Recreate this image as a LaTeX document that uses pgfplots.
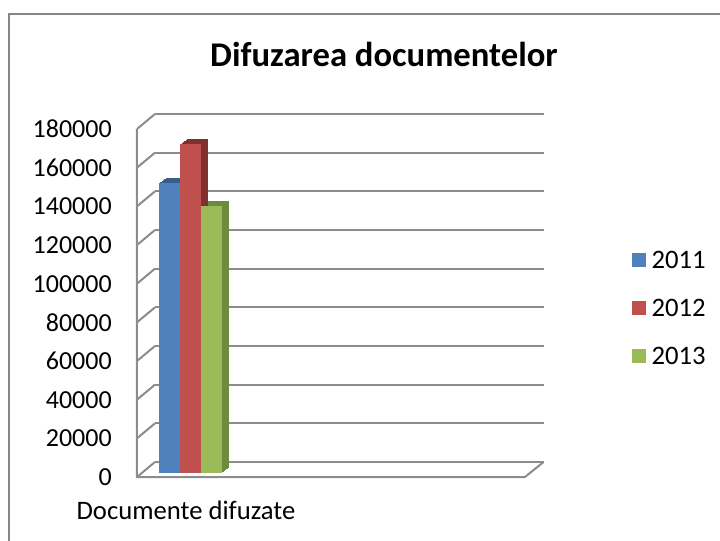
\documentclass[border=0pt]{standalone}
\usepackage{pgfplots}
\usepackage{pgfplotstable}
\pgfplotsset{compat=1.18}
\usepackage{fontspec}
\setmainfont{Carlito}
\definecolor{gridgray}{RGB}{140,140,140}
\definecolor{framegray}{RGB}{134,134,134}
\definecolor{c11}{RGB}{79,129,189}
\definecolor{c12}{RGB}{192,80,77}
\definecolor{c13}{RGB}{155,187,89}
\definecolor{d11}{RGB}{56,93,138}
\definecolor{d12}{RGB}{128,48,46}
\definecolor{d13}{RGB}{111,138,63}
\pgfplotstableread{
x y
14.5 150000
}\dataA
\pgfplotstableread{
x y
35.5 170000
}\dataB
\pgfplotstableread{
x y
56.5 138000
}\dataC
\begin{document}
\begin{tikzpicture}
\path[use as bounding box] (-116.25pt,-58.5pt) rectangle (423.75pt,346.5pt);
\draw[framegray, line width=1.5pt] (-109.5pt,-70pt) -- (-109.5pt,336pt) -- (440pt,336pt);
\begin{axis}[
  at={(0pt,0pt)}, anchor=south west, scale only axis,
  width=291pt, height=261pt,
  xmin=0, xmax=388, ymin=0, ymax=180000,
  clip=false,
  axis line style={draw=none}, tick style={draw=none},
  xtick=\empty, ytick={0,20000,40000,60000,80000,100000,120000,140000,160000,180000},
  ymajorgrids, grid style={gridgray, line width=1.5pt},
  scaled y ticks=false,
  yticklabel style={font=\fontsize{19.5}{23}\selectfont, anchor=east, inner sep=0pt, xshift=-32.25pt, yshift=-11.25pt,
    /pgf/number format/fixed, /pgf/number format/precision=0,
    /pgf/number format/1000 sep={}, /pgf/number format/assume math mode=true},
  legend image code/.code={\fill[#1] (0pt,-5.25pt) rectangle (10.5pt,5.25pt);},
  legend style={draw=none, fill=none, at={(1.2268,0.607)}, anchor=north west,
    inner sep=0pt, outer sep=0pt, row sep=22.5pt,
    font=\fontsize{20}{24}\selectfont,
    nodes={inner sep=0pt, text height=13.5pt, text depth=0pt}},
  legend cell align=left,
]
% walls
\pgfplotsinvokeforeach{0,20000,40000,60000,80000,100000,120000,140000,160000,180000}{
  \draw[gridgray, line width=1.5pt] (axis cs:0,#1) -- ++(-13.5pt,-11.25pt);
}
\draw[gridgray, line width=1.5pt] (axis cs:0,180000) ++(-13.5pt,-11.25pt) -- ++(0,-261pt) -- ++(291pt,0) -- (axis cs:388,0);
% extrusion (side/top faces)
\pgfplotsinvokeforeach{1,2,3,4,5,6,7}{
  \addplot[ybar, bar width=15.75pt, bar shift=0pt, draw=none, fill=d11, xshift=#1*0.75pt, yshift=-8.25pt+#1*0.536pt, forget plot] table[x=x,y=y] {\dataA};
  \addplot[ybar, bar width=15.75pt, bar shift=0pt, draw=none, fill=d12, xshift=#1*0.75pt, yshift=-8.25pt+#1*0.536pt, forget plot] table[x=x,y=y] {\dataB};
  \addplot[ybar, bar width=15.75pt, bar shift=0pt, draw=none, fill=d13, xshift=#1*0.75pt, yshift=-8.25pt+#1*0.536pt, forget plot] table[x=x,y=y] {\dataC};
}
% front faces
\addplot[ybar, bar width=15.75pt, bar shift=0pt, draw=none, fill=c11, yshift=-8.25pt, forget plot] table[x=x,y=y] {\dataA};
\addplot[ybar, bar width=15.75pt, bar shift=0pt, draw=none, fill=c12, yshift=-8.25pt, forget plot] table[x=x,y=y] {\dataB};
\addplot[ybar, bar width=15.75pt, bar shift=0pt, draw=none, fill=c13, yshift=-8.25pt, forget plot] table[x=x,y=y] {\dataC};
\addlegendimage{draw=none, fill=c11}
\addlegendentry{\ 2011}
\addlegendimage{draw=none, fill=c12}
\addlegendentry{\ 2012}
\addlegendimage{draw=none, fill=c13}
\addlegendentry{\ 2013}
\end{axis}
\node[font=\bfseries\fontsize{26}{31}\selectfont] at (171.75pt,306pt) {Difuzarea documentelor};
\node[font=\fontsize{20}{24}\selectfont, anchor=base] at (23.25pt,-42.75pt) {Documente difuzate};
\end{tikzpicture}
\end{document}
